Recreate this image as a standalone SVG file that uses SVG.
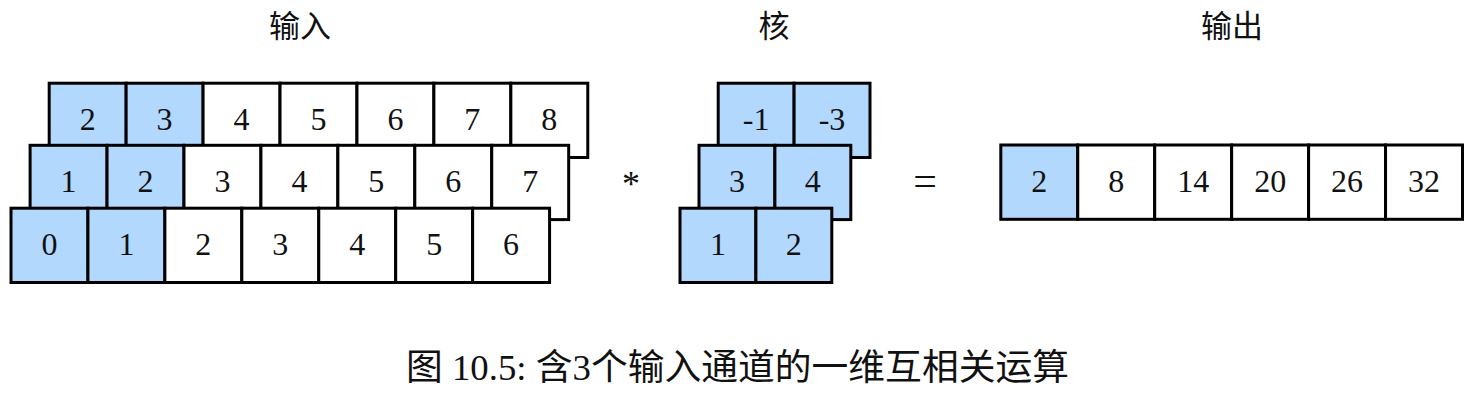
<svg xmlns="http://www.w3.org/2000/svg" width="1478" height="402" viewBox="0 0 1478 402">
<style>
.c{fill:#ffffff;stroke:#000;stroke-width:3}
.b{fill:#b3d8fe;stroke:#000;stroke-width:3}
.n{font-family:"Liberation Serif","Times New Roman",serif;font-size:32px;fill:#111;text-anchor:middle}
.t{font-family:"Noto Sans CJK SC","Noto Sans",sans-serif;font-size:31px;fill:#111;text-anchor:middle}
.cap{font-family:"Liberation Serif","Noto Sans CJK SC",serif;font-size:36px;fill:#111}
</style>
<rect width="1478" height="402" fill="#fff"/>
<g id="titles">
<text class="t" x="300" y="37">输入</text>
<text class="t" x="774" y="37">核</text>
<text class="t" x="1232" y="37">输出</text>
</g>
<g id="input-channel-3" transform="translate(49.2,83.2)">
<rect class="b" x="0" y="0" width="76.94" height="74.3"/>
<rect class="b" x="76.94" y="0" width="76.94" height="74.3"/>
<rect class="c" x="153.88" y="0" width="76.94" height="74.3"/>
<rect class="c" x="230.82" y="0" width="76.94" height="74.3"/>
<rect class="c" x="307.76" y="0" width="76.94" height="74.3"/>
<rect class="c" x="384.7" y="0" width="76.94" height="74.3"/>
<rect class="c" x="461.64" y="0" width="76.94" height="74.3"/>
<text class="n" x="38.47" y="47">2</text>
<text class="n" x="115.41" y="47">3</text>
<text class="n" x="192.35" y="47">4</text>
<text class="n" x="269.29" y="47">5</text>
<text class="n" x="346.23" y="47">6</text>
<text class="n" x="423.17" y="47">7</text>
<text class="n" x="500.11" y="47">8</text>
</g>
<g id="input-channel-2" transform="translate(30.1,145.3)">
<rect class="b" x="0" y="0" width="76.94" height="74.3"/>
<rect class="b" x="76.94" y="0" width="76.94" height="74.3"/>
<rect class="c" x="153.88" y="0" width="76.94" height="74.3"/>
<rect class="c" x="230.82" y="0" width="76.94" height="74.3"/>
<rect class="c" x="307.76" y="0" width="76.94" height="74.3"/>
<rect class="c" x="384.7" y="0" width="76.94" height="74.3"/>
<rect class="c" x="461.64" y="0" width="76.94" height="74.3"/>
<text class="n" x="38.47" y="47">1</text>
<text class="n" x="115.41" y="47">2</text>
<text class="n" x="192.35" y="47">3</text>
<text class="n" x="269.29" y="47">4</text>
<text class="n" x="346.23" y="47">5</text>
<text class="n" x="423.17" y="47">6</text>
<text class="n" x="500.11" y="47">7</text>
</g>
<g id="input-channel-1" transform="translate(11,208.2)">
<rect class="b" x="0" y="0" width="76.94" height="74.3"/>
<rect class="b" x="76.94" y="0" width="76.94" height="74.3"/>
<rect class="c" x="153.88" y="0" width="76.94" height="74.3"/>
<rect class="c" x="230.82" y="0" width="76.94" height="74.3"/>
<rect class="c" x="307.76" y="0" width="76.94" height="74.3"/>
<rect class="c" x="384.7" y="0" width="76.94" height="74.3"/>
<rect class="c" x="461.64" y="0" width="76.94" height="74.3"/>
<text class="n" x="38.47" y="47">0</text>
<text class="n" x="115.41" y="47">1</text>
<text class="n" x="192.35" y="47">2</text>
<text class="n" x="269.29" y="47">3</text>
<text class="n" x="346.23" y="47">4</text>
<text class="n" x="423.17" y="47">5</text>
<text class="n" x="500.11" y="47">6</text>
</g>
<g id="operator-star">
<text class="n" x="631" y="196" style="font-size:36px">*</text>
</g>
<g id="kernel-channel-3" transform="translate(718.2,83.2)">
<rect class="b" x="0" y="0" width="75.9" height="74.3"/>
<rect class="b" x="75.9" y="0" width="75.9" height="74.3"/>
<text class="n" x="37.95" y="47">-1</text>
<text class="n" x="113.85" y="47">-3</text>
</g>
<g id="kernel-channel-2" transform="translate(699,145.3)">
<rect class="b" x="0" y="0" width="75.9" height="74.3"/>
<rect class="b" x="75.9" y="0" width="75.9" height="74.3"/>
<text class="n" x="37.95" y="47">3</text>
<text class="n" x="113.85" y="47">4</text>
</g>
<g id="kernel-channel-1" transform="translate(680,208.2)">
<rect class="b" x="0" y="0" width="75.9" height="74.3"/>
<rect class="b" x="75.9" y="0" width="75.9" height="74.3"/>
<text class="n" x="37.95" y="47">1</text>
<text class="n" x="113.85" y="47">2</text>
</g>
<g id="operator-equals">
<text class="n" x="925" y="195" style="font-size:42px">=</text>
</g>
<g id="output" transform="translate(1000.8,145)">
<rect class="b" x="0" y="0" width="76.95" height="74.3"/>
<rect class="c" x="76.95" y="0" width="76.95" height="74.3"/>
<rect class="c" x="153.9" y="0" width="76.95" height="74.3"/>
<rect class="c" x="230.85" y="0" width="76.95" height="74.3"/>
<rect class="c" x="307.8" y="0" width="76.95" height="74.3"/>
<rect class="c" x="384.75" y="0" width="76.95" height="74.3"/>
<text class="n" x="38.48" y="47">2</text>
<text class="n" x="115.43" y="47">8</text>
<text class="n" x="192.38" y="47">14</text>
<text class="n" x="269.33" y="47">20</text>
<text class="n" x="346.28" y="47">26</text>
<text class="n" x="423.23" y="47">32</text>
</g>
<g id="connectors"/>
<g id="caption">
<text class="cap" x="406" y="380" textLength="663" lengthAdjust="spacingAndGlyphs">图 10.5: 含3个输入通道的一维互相关运算</text>
</g>
</svg>
